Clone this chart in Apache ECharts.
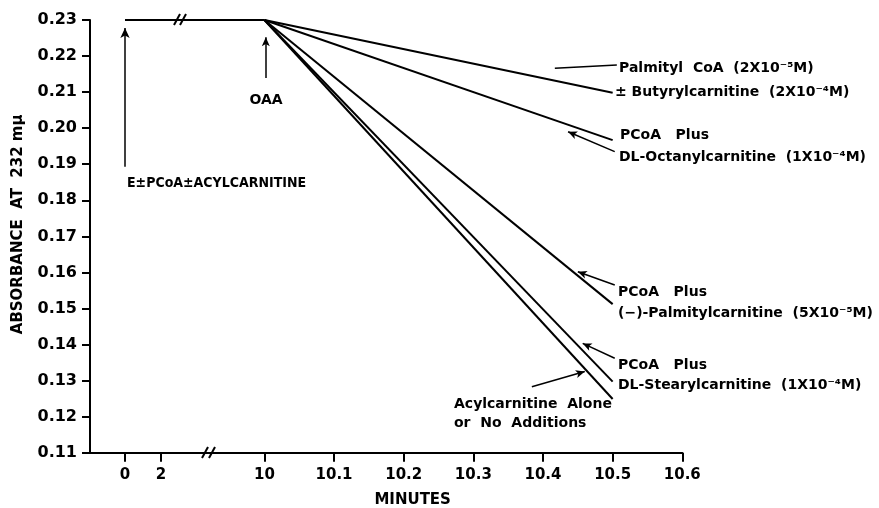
<!DOCTYPE html>
<html><head><meta charset="utf-8">
<script src="https://cdn.jsdelivr.net/npm/echarts@6/dist/echarts.min.js"></script>
<style>html,body{margin:0;padding:0;background:#fff}#c{width:879px;height:508px}</style>
</head><body><div id="c"></div><script>
// ---- data ----
const leftTicks = [0, 2];
const leftTickLabels = ['0', '2'];
const rightTicks = [10, 10.1, 10.2, 10.3, 10.4, 10.5, 10.6];
const rightTickLabels = ['10', '10.1', '10.2', '10.3', '10.4', '10.5', '10.6'];
const yMin = 0.11, yMax = 0.23, yStep = 0.01;
// baseline absorbance before OAA addition (0 -> 10 min)
const baselineTimes = [0, 10];
const baselineValues = [0.23, 0.23];
// after OAA: time points and absorbance for each condition
const rateTimes = [10, 10.5];
const palmitylCoA = [0.23, 0.2098];
const octanylcarnitine = [0.23, 0.1967];
const palmitylcarnitine = [0.23, 0.1512];
const stearylcarnitine = [0.23, 0.1297];
const noAdditions = [0.23, 0.1249];

const FONT = 'DejaVu Sans';
const pair = (xs, ys) => xs.map((x, i) => [x, ys[i]]);
const lineStyle = { color: '#000', width: 2 };
function rateSeries(name, vals) {
  return { name, type: 'line', xAxisIndex: 1, yAxisIndex: 1, data: pair(rateTimes, vals),
    symbol: 'none', lineStyle, silent: true };
}
const arrowLine = { color: '#000', width: 1.5, type: 'solid' };

const chart = echarts.init(document.getElementById('c'), null, { renderer: 'canvas' });
chart.setOption({
  animation: false,
  backgroundColor: '#fff',
  grid: [
    { left: 90, top: 20, width: 95, height: 432.7, outerBoundsMode: 'none', containLabel: false },
    { left: 185, top: 20, width: 497.3, height: 432.7, outerBoundsMode: 'none', containLabel: false }
  ],
  xAxis: [
    { type: 'value', gridIndex: 0, min: -1.944, max: 3.333,
      axisLine: { onZero: false, lineStyle: { color: '#000', width: 2 } },
      axisTick: { customValues: leftTicks, length: 9, lineStyle: { color: '#000', width: 2 } },
      axisLabel: { customValues: leftTicks, formatter: v => leftTickLabels[leftTicks.indexOf(v)] ?? '',
        color: '#000', fontFamily: FONT, fontWeight: 'bold', fontSize: 15, margin: 15 },
      splitLine: { show: false } },
    { type: 'value', gridIndex: 1, min: 9.886, max: 10.6,
      name: 'MINUTES', nameLocation: 'middle', nameGap: 40,
      nameTextStyle: { color: '#000', fontFamily: FONT, fontWeight: 'bold', fontSize: 15, padding: [0, 42, 0, 0] },
      axisLine: { onZero: false, lineStyle: { color: '#000', width: 2 } },
      axisTick: { customValues: rightTicks, length: 9, lineStyle: { color: '#000', width: 2 } },
      axisLabel: { customValues: rightTicks,
        formatter: v => { const i = rightTicks.findIndex(t => Math.abs(t - v) < 1e-6); return i >= 0 ? rightTickLabels[i] : ''; },
        color: '#000', fontFamily: FONT, fontWeight: 'bold', fontSize: 15, margin: 15 },
      splitLine: { show: false } }
  ],
  yAxis: [
    { type: 'value', gridIndex: 0, min: yMin, max: yMax, interval: yStep,
      name: 'ABSORBANCE  AT  232 mμ', nameLocation: 'middle', nameRotate: 90, nameGap: 64,
      nameTextStyle: { color: '#000', fontFamily: FONT, fontWeight: 'bold', fontSize: 15, padding: [0, 0, 0, 24] },
      axisLine: { show: true, onZero: false, lineStyle: { color: '#000', width: 2 } },
      axisTick: { show: true, length: 8, lineStyle: { color: '#000', width: 2 } },
      axisLabel: { formatter: v => v.toFixed(2), color: '#000', fontFamily: FONT, fontWeight: 'bold', fontSize: 16, margin: 13 },
      splitLine: { show: false } },
    { type: 'value', gridIndex: 1, min: yMin, max: yMax, interval: yStep, show: false, splitLine: { show: false } }
  ],
  series: [
    { type: 'line', xAxisIndex: 0, yAxisIndex: 0, data: pair(baselineTimes, baselineValues), symbol: 'none', lineStyle, silent: true,
      markLine: { silent: true, symbol: ['none', 'arrow'], symbolSize: [7, 10], label: { show: false }, lineStyle: arrowLine,
        data: [[{ coord: [0, 0.1893] }, { coord: [0, 0.2278] }]] } },
    { type: 'line', xAxisIndex: 1, yAxisIndex: 1, data: pair(baselineTimes, baselineValues), symbol: 'none', lineStyle, silent: true,
      markLine: { silent: true, symbol: ['none', 'arrow'], symbolSize: [6, 9], label: { show: false }, lineStyle: arrowLine,
        data: [
          [{ coord: [10.002, 0.2139] }, { coord: [10.002, 0.2252] }],
          [{ coord: [10.506, 0.2175], symbol: 'none' }, { coord: [10.417, 0.2166], symbol: 'none', lineStyle: { curveness: 0.1 } }],
          [{ coord: [10.503, 0.1935], lineStyle: { curveness: -0.15 } }, { coord: [10.436, 0.1990] }],
          [{ coord: [10.503, 0.1565], lineStyle: { curveness: -0.15 } }, { coord: [10.450, 0.1602] }],
          [{ coord: [10.503, 0.1362], lineStyle: { curveness: -0.15 } }, { coord: [10.457, 0.1403] }],
          [{ coord: [10.384, 0.1283], lineStyle: { curveness: -0.2 } }, { coord: [10.460, 0.1325] }]
        ] } },
    rateSeries('Palmityl CoA ± Butyrylcarnitine', palmitylCoA),
    rateSeries('PCoA + DL-Octanylcarnitine', octanylcarnitine),
    rateSeries('PCoA + (−)-Palmitylcarnitine', palmitylcarnitine),
    rateSeries('PCoA + DL-Stearylcarnitine', stearylcarnitine),
    rateSeries('Acylcarnitine alone or no additions', noAdditions)
  ],
  graphic: [
    // axis break marks
    { type: 'line', shape: { x1: 174, y1: 25, x2: 180, y2: 14 }, style: { stroke: '#000', lineWidth: 2 } },
    { type: 'line', shape: { x1: 180, y1: 25, x2: 186, y2: 14 }, style: { stroke: '#000', lineWidth: 2 } },
    { type: 'line', shape: { x1: 202, y1: 458, x2: 208, y2: 447 }, style: { stroke: '#000', lineWidth: 2 } },
    { type: 'line', shape: { x1: 209, y1: 458, x2: 215, y2: 447 }, style: { stroke: '#000', lineWidth: 2 } },
    ...[
      ['Palmityl  CoA  (2X10⁻⁵M)', 619, 68],
      ['± Butyrylcarnitine  (2X10⁻⁴M)', 615, 92],
      ['PCoA   Plus', 620, 135],
      ['DL-Octanylcarnitine  (1X10⁻⁴M)', 619, 157],
      ['PCoA   Plus', 618, 292],
      ['(−)-Palmitylcarnitine  (5X10⁻⁵M)', 618, 313],
      ['PCoA   Plus', 618, 365],
      ['DL-Stearylcarnitine  (1X10⁻⁴M)', 618, 385],
      ['Acylcarnitine  Alone', 454, 404],
      ['or  No  Additions', 454, 423]
    ].map(([t, x, y]) => ({ type: 'text', x, y, style: { text: t, fill: '#000', font: 'bold 14px "DejaVu Sans"', textVerticalAlign: 'middle' } })),
    { type: 'text', x: 127, y: 183, style: { text: 'E±PCoA±ACYLCARNITINE', fill: '#000', font: 'bold 14px "DejaVu Sans Condensed", "DejaVu Sans"', textVerticalAlign: 'middle' } },
    { type: 'text', x: 266, y: 100, style: { text: 'OAA', fill: '#000', font: 'bold 14px "DejaVu Sans"', textAlign: 'center', textVerticalAlign: 'middle' } }
  ]
});
</script></body></html>
